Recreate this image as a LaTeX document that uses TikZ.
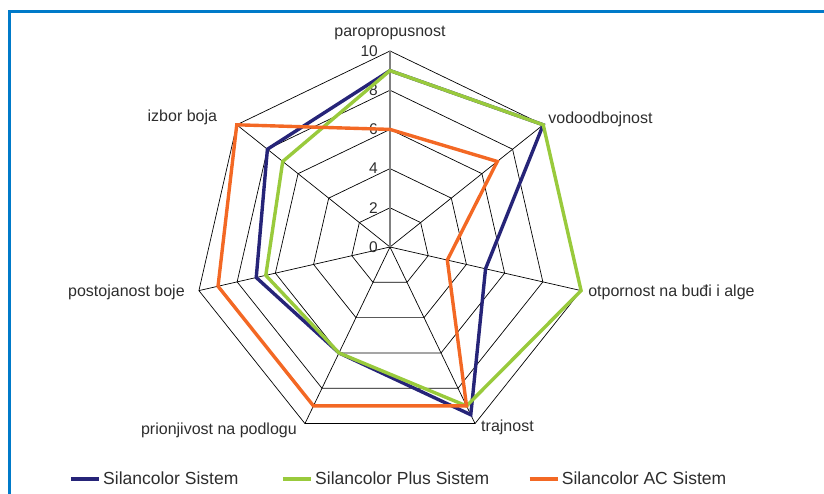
\documentclass[tikz,border=0pt]{standalone}
\usepackage{fontspec}
\setmainfont{Liberation Sans}
\usepackage{tikz}
\usetikzlibrary{positioning, calc}
\def\radarradius{196}
\def\radarstep{19.6}
\definecolor{frame}{RGB}{0, 122, 201}
\definecolor{silancolor}{RGB}{38, 36, 120}
\definecolor{silancolor-plus}{RGB}{153, 202, 60}
\definecolor{silancolor-ac}{RGB}{243, 104, 36}
\definecolor{labeltext}{RGB}{45, 45, 45}
\tikzstyle{gridline} = [black, line width=0.7pt]
\tikzstyle{series} = [line width=3.4pt]
\tikzstyle{frameline} = [frame, line width=3pt]
\newcommand{\tikzaxislabel}{\node[
  text=labeltext, inner sep=0, font=\fontsize{16pt}{16pt}\selectfont
]}
\newcommand{\tikzscalelabel}{\node[
  text=labeltext, inner sep=0, anchor=east, font=\fontsize{15.5pt}{15.5pt}\selectfont
]}
\newcommand{\tikzlegendnode}{\node[
  text=labeltext, inner sep=0, anchor=base west, font=\fontsize{17.5pt}{17.5pt}\selectfont
]}

\begin{document}
\begin{tikzpicture}[x=1pt, y=1pt]
    \useasboundingbox (-390,-247) rectangle (434,247);

    % frame
    \coordinate (frame-bl) at (-380,-247);
    \coordinate (frame-tl) at (-380,235.7);
    \coordinate (frame-tr) at (434,235.7);
    \draw[frameline] (frame-bl) -- (frame-tl) -- (frame-tr);

    % grid
    \coordinate (o) at (0,0);
    \foreach \i in {0,...,6}
      \coordinate (a\i) at ({90-\i*360/7}:\radarradius);
    \foreach \l in {1,...,5}
      \draw[gridline] (90:{\l*2*\radarstep})
        \foreach \i in {1,...,6} { -- ({90-\i*360/7}:{\l*2*\radarstep}) } -- cycle;
    \foreach \i in {1,...,6}
      \draw[gridline] (o) -- (a\i);
    \draw[gridline, gray, line width=1.2pt] (o) -- (a0);

    % scale
    \foreach \v [count=\l from 0] in {0,2,...,10}
      \tikzscalelabel (n\v) at (-12,{\l*2*\radarstep}) {\v};

    % series
    \foreach \v [count=\i from 0] in {9,10,5,9.5,6,7,8}
      \coordinate (sa\i) at ({90-\i*360/7}:{\v*\radarstep});
    \foreach \v [count=\i from 0] in {9,10,10,9,6,6.5,7}
      \coordinate (sb\i) at ({90-\i*360/7}:{\v*\radarstep});
    \foreach \v [count=\i from 0] in {6,7,3,9,9,9,10}
      \coordinate (sc\i) at ({90-\i*360/7}:{\v*\radarstep});
    \draw[series, silancolor]      (sa0) -- (sa1) -- (sa2) -- (sa3) -- (sa4) -- (sa5) -- (sa6) -- cycle;
    \draw[series, silancolor-plus] (sb0) -- (sb1) -- (sb2) -- (sb3) -- (sb4) -- (sb5) -- (sb6) -- cycle;
    \draw[series, silancolor-ac]   (sc0) -- (sc1) -- (sc2) -- (sc3) -- (sc4) -- (sc5) -- (sc6) -- cycle;

    % axis labels
    \tikzaxislabel[above=11pt of a0]                        (l0) {paropropusnost};
    \tikzaxislabel[anchor=base west] at ([shift={(5,1.5)}]a1)   (l1) {vodoodbojnost};
    \tikzaxislabel[anchor=base west] at ([shift={(7,-5.4)}]a2)  (l2) {otpornost na buđi i alge};
    \tikzaxislabel[anchor=base west] at ([shift={(6,-8)}]a3)    (l3) {trajnost};
    \tikzaxislabel[anchor=base east] at ([shift={(-8,-10.5)}]a4) (l4) {prionjivost na podlogu};
    \tikzaxislabel[anchor=base east] at ([shift={(-14,-6)}]a5)  (l5) {postojanost boje};
    \tikzaxislabel[anchor=base east] at ([shift={(-19.5,3)}]a6) (l6) {izbor boja};

    % legend
    \tikzlegendnode at (-287,-237)  (leg1) {Silancolor Sistem};
    \tikzlegendnode at (-75,-237)   (leg2) {Silancolor Plus Sistem};
    \tikzlegendnode at (171.7,-237) (leg3) {Silancolor AC Sistem};
    \draw[series, silancolor]      ([shift={(-32,5)}]leg1.base west) -- ([shift={(-4,5)}]leg1.base west);
    \draw[series, silancolor-plus] ([shift={(-32,5)}]leg2.base west) -- ([shift={(-4,5)}]leg2.base west);
    \draw[series, silancolor-ac]   ([shift={(-32,5)}]leg3.base west) -- ([shift={(-4,5)}]leg3.base west);
\end{tikzpicture}
\end{document}
